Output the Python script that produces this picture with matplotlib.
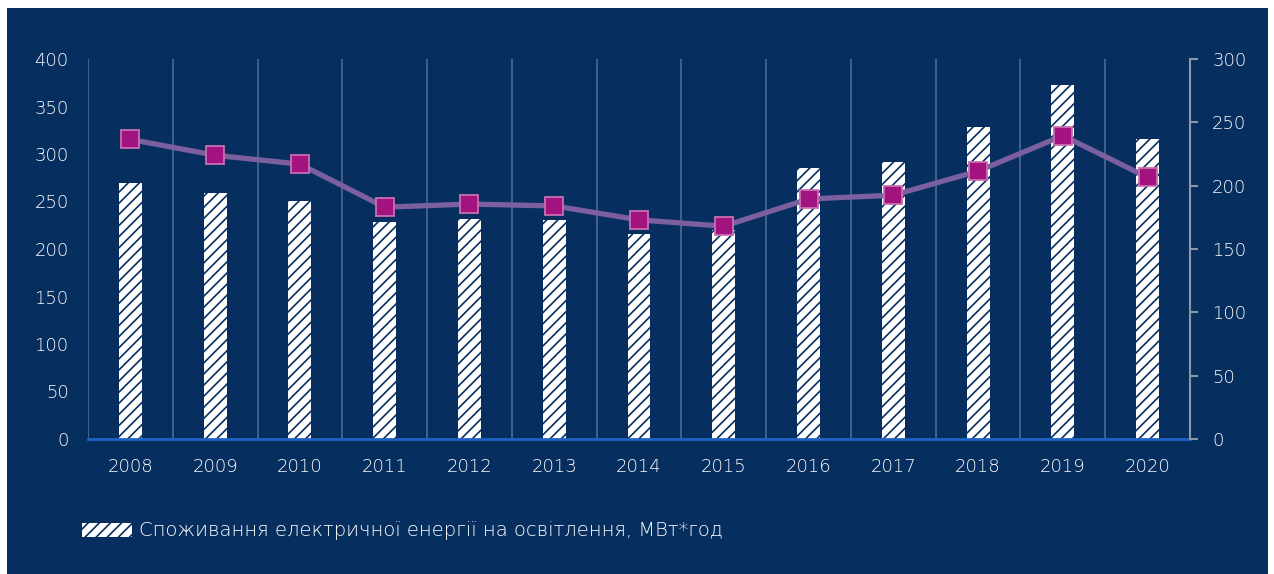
import matplotlib
matplotlib.use("Agg")
import matplotlib.pyplot as plt
from matplotlib.patches import Rectangle, Patch
import numpy as np

years = ["2008", "2009", "2010", "2011", "2012", "2013", "2014",
         "2015", "2016", "2017", "2018", "2019", "2020"]
consumption = [270, 259, 250, 228, 232, 230, 216, 220, 285, 292, 328, 373, 316]
line_values = [236.5, 224, 217, 183, 185.5, 184, 173, 168, 189.5, 192.5, 211.5, 239.5, 206.5]
left_ticks = [0, 50, 100, 150, 200, 250, 300, 350, 400]
right_ticks = [0, 50, 100, 150, 200, 250, 300]
legend_label = "Споживання електричної енергії на освітлення, МВт*год"

NAVY = "#062f5f"
plt.rcParams['font.family'] = ['DejaVu Sans']
plt.rcParams['font.weight'] = 'light'
plt.rcParams['hatch.linewidth'] = 1.2
plt.rcParams['hatch.color'] = NAVY

W, H = 1274, 574
fig = plt.figure(figsize=(W / 100, H / 100), dpi=100)
fig.patch.set_facecolor("white")
fig.add_artist(Rectangle((7 / W, 0), (1268 - 7) / W, (574 - 8) / H,
                         transform=fig.transFigure, facecolor=NAVY,
                         edgecolor="none", zorder=0))

x0, x1 = 88, 1190
ytop, ybot = 59, 439
ax = fig.add_axes([x0 / W, 1 - ybot / H, (x1 - x0) / W, (ybot - ytop) / H])
ax.set_facecolor("none")
ax.set_zorder(1)

x = np.arange(len(years))
ax.bar(x, consumption, width=0.27, facecolor="white", edgecolor=NAVY,
       hatch="///", linewidth=0, zorder=2)
ax.set_xlim(-0.5, len(years) - 0.5)
ax.set_ylim(0, 400)
ax.set_yticks(left_ticks)
ax.set_yticklabels([str(v) for v in left_ticks], color="white", fontsize=13)
ax.set_xticks(x)
ax.set_xticklabels(years, color="white", fontsize=13)
ax.tick_params(axis='y', length=0, pad=14)
ax.tick_params(axis='x', length=0, pad=14)
for b in np.arange(-0.5, len(years), 1.0):
    ax.axvline(b, color="#4f6b8f", lw=1.2, zorder=1)
for s in ["top", "right", "left"]:
    ax.spines[s].set_visible(False)
ax.spines["bottom"].set_color("#1f63c6")
ax.spines["bottom"].set_linewidth(2)
ax.spines["bottom"].set_zorder(3)

ax2 = ax.twinx()
ax2.set_ylim(0, 300)
ax2.set_yticks(right_ticks)
ax2.set_yticklabels([str(v) for v in right_ticks], color="white", fontsize=13)
ax2.tick_params(axis='y', length=6, width=1.5, color="#8d97a8", pad=10)
for s in ["top", "left", "bottom"]:
    ax2.spines[s].set_visible(False)
ax2.spines["right"].set_color("#8d97a8")
ax2.spines["right"].set_linewidth(1.5)
ax2.plot(x, line_values, color="#7b5f9f", lw=3.8, zorder=3, solid_capstyle="round")
ax2.plot(x, line_values, linestyle="none", marker="s", markersize=13,
         markerfacecolor="#a2137f", markeredgecolor="#c86fb0",
         markeredgewidth=1.3, zorder=4)

handle = Patch(facecolor="white", edgecolor=NAVY, hatch="///", linewidth=0)
fig.legend([handle], [legend_label], loc="center left",
           bbox_to_anchor=(64 / W, 1 - 531 / H), frameon=False,
           fontsize=14, labelcolor="white", handlelength=2.6, handleheight=0.72,
           handletextpad=0.35)

fig.savefig("out.png", dpi=100, facecolor=fig.get_facecolor())
